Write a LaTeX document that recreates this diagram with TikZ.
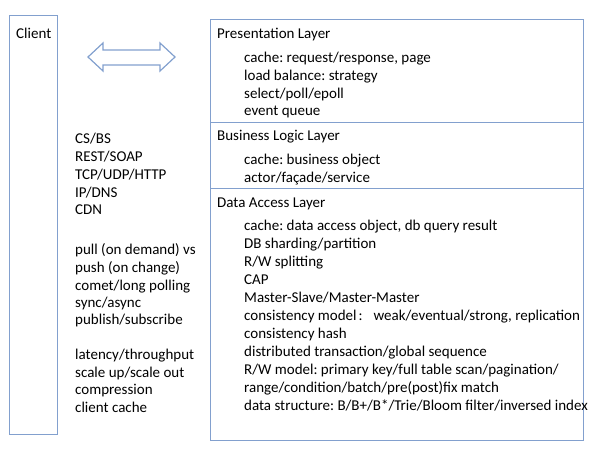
\documentclass[tikz,border=0pt]{standalone}
\usepackage{fontspec}
\setmainfont{Carlito}
\frenchspacing
\definecolor{boxblue}{RGB}{130,160,206}
\begin{document}
\begin{tikzpicture}[x=1pt,y=-1pt,
  box/.style={draw=boxblue,line width=1.2pt,inner sep=0pt,anchor=north west},
  txt/.style={anchor=base west,inner sep=0pt,font=\fontsize{15}{18}\selectfont\frenchspacing}]
\useasboundingbox (0,0) rectangle (599,450);
% boxes
\node[box,minimum width=48pt,minimum height=419pt] (client) at (9,15) {};
\node[box,minimum width=373pt,minimum height=103pt] (pres) at (210,19) {};
\node[box,minimum width=373pt,minimum height=66pt] (biz) at (210,122) {};
\node[box,minimum width=373pt,minimum height=252pt] (data) at (210,188) {};
% double arrow
\draw[boxblue,line width=1.2pt,line join=miter] (88,57) -- (103,43) -- (103,50) -- (160,50) -- (160,43) -- (175,57) -- (160,71) -- (160,65) -- (103,65) -- (103,71) -- cycle;
% client text
\node[txt] (cl) at (16,38) {Client};
% left lists
\node[txt] (l1) at (75,143) {CS/BS};
\node[txt] (l2) at (75,161) {REST/SOAP};
\node[txt] (l3) at (75,179) {TCP/UDP/HTTP};
\node[txt] (l4) at (75,197) {IP/DNS};
\node[txt] (l5) at (75,214) {CDN};
\node[txt] (l6) at (75,254) {pull (on demand) vs};
\node[txt] (l7) at (75,272) {push (on change)};
\node[txt] (l8) at (75,290) {comet/long polling};
\node[txt] (l9) at (75,307) {sync/async};
\node[txt] (l10) at (75,324) {publish/subscribe};
\node[txt] (l11) at (75,359) {latency/throughput};
\node[txt] (l12) at (75,377) {scale up/scale out};
\node[txt] (l13) at (75,394) {compression};
\node[txt] (l14) at (75,412) {client cache};
% presentation
\node[txt] (ph) at (217,38) {Presentation Layer};
\node[txt] (p1) at (244,62) {cache: request/response, page};
\node[txt] (p2) at (244,80) {load balance: strategy};
\node[txt] (p3) at (244,98) {select/poll/epoll};
\node[txt] (p4) at (244,115) {event queue};
% business
\node[txt] (bh) at (217,140) {Business Logic Layer};
\node[txt] (b1) at (244,164) {cache: business object};
\node[txt] (b2) at (244,182) {actor/façade/service};
% data
\node[txt] (dh) at (217,207) {Data Access Layer};
\node[txt] (d1) at (244,230) {cache: data access object, db query result};
\node[txt] (d2) at (244,248) {DB sharding/partition};
\node[txt] (d3) at (244,266) {R/W splitting};
\node[txt] (d4) at (244,284) {CAP};
\node[txt] (d5) at (244,302) {Master-Slave/Master-Master};
\node[txt] (d6) at (244,320) {consistency model\hspace{2pt}:\hspace{11pt}weak/eventual/strong, replication};
\node[txt] (d7) at (244,338) {consistency hash};
\node[txt] (d8) at (244,356) {distributed transaction/global sequence};
\node[txt] (d9) at (244,374) {R/W model: primary key/full table scan/pagination/};
\node[txt] (d10) at (244,392) {range/condition/batch/pre(post)fix match};
\node[txt] (d11) at (244,410) {data structure: B/B+/B*/Trie/Bloom filter/inversed index};
\end{tikzpicture}
\end{document}
